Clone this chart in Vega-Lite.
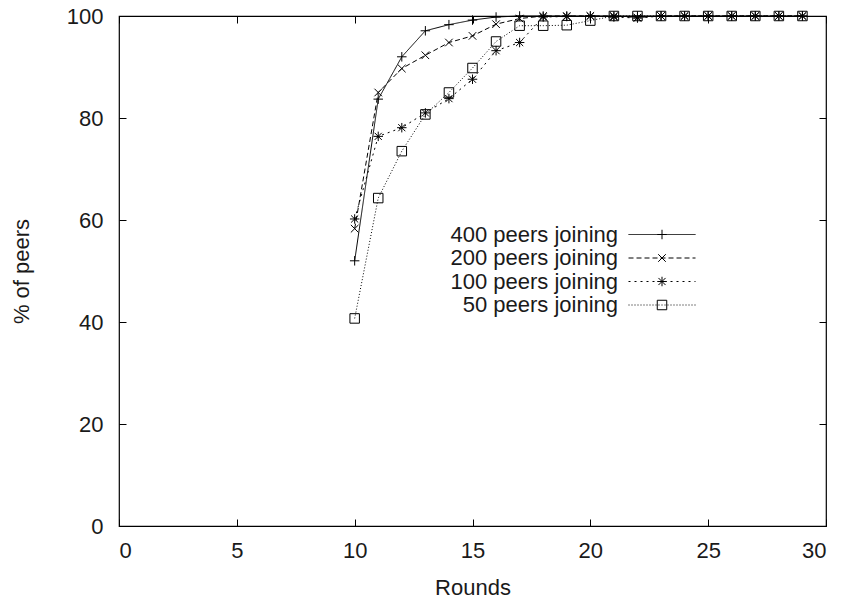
{
  "$schema": "https://vega.github.io/schema/vega-lite/v6.json",
  "width": 707,
  "height": 510,
  "autosize": "none",
  "padding": {"left": 119, "top": 16, "right": 18, "bottom": 74},
  "background": "white",
  "config": {
    "font": "Liberation Sans",
    "view": {"stroke": "black", "strokeWidth": 1.2},
    "axis": {
      "grid": false,
      "domain": false,
      "ticks": true,
      "tickColor": "black",
      "tickWidth": 1,
      "tickSize": -7,
      "labelFontSize": 22,
      "labelColor": "#1a1a1a",
      "titleFontSize": 22,
      "titleFontWeight": "normal",
      "titleColor": "#1a1a1a"
    },
    "legend": {
      "labelFontSize": 22,
      "labelColor": "#1a1a1a",
      "labelLimit": 0,
      "padding": 0,
      "rowPadding": 1.5
    }
  },
  "data": {
    "values": [
      {"series": "400 peers joining", "peers": 400, "round": 10, "pct": 52.0},
      {"series": "400 peers joining", "peers": 400, "round": 11, "pct": 83.7},
      {"series": "400 peers joining", "peers": 400, "round": 12, "pct": 92.0},
      {"series": "400 peers joining", "peers": 400, "round": 13, "pct": 97.1},
      {"series": "400 peers joining", "peers": 400, "round": 14, "pct": 98.3},
      {"series": "400 peers joining", "peers": 400, "round": 15, "pct": 99.2},
      {"series": "400 peers joining", "peers": 400, "round": 16, "pct": 99.8},
      {"series": "400 peers joining", "peers": 400, "round": 17, "pct": 100},
      {"series": "400 peers joining", "peers": 400, "round": 18, "pct": 100},
      {"series": "400 peers joining", "peers": 400, "round": 19, "pct": 100},
      {"series": "400 peers joining", "peers": 400, "round": 20, "pct": 100},
      {"series": "400 peers joining", "peers": 400, "round": 21, "pct": 100},
      {"series": "400 peers joining", "peers": 400, "round": 22, "pct": 100},
      {"series": "400 peers joining", "peers": 400, "round": 23, "pct": 100},
      {"series": "400 peers joining", "peers": 400, "round": 24, "pct": 100},
      {"series": "400 peers joining", "peers": 400, "round": 25, "pct": 100},
      {"series": "400 peers joining", "peers": 400, "round": 26, "pct": 100},
      {"series": "400 peers joining", "peers": 400, "round": 27, "pct": 100},
      {"series": "400 peers joining", "peers": 400, "round": 28, "pct": 100},
      {"series": "400 peers joining", "peers": 400, "round": 29, "pct": 100},
      {"series": "200 peers joining", "peers": 200, "round": 10, "pct": 58.3},
      {"series": "200 peers joining", "peers": 200, "round": 11, "pct": 85.0},
      {"series": "200 peers joining", "peers": 200, "round": 12, "pct": 89.7},
      {"series": "200 peers joining", "peers": 200, "round": 13, "pct": 92.3},
      {"series": "200 peers joining", "peers": 200, "round": 14, "pct": 94.8},
      {"series": "200 peers joining", "peers": 200, "round": 15, "pct": 96.1},
      {"series": "200 peers joining", "peers": 200, "round": 16, "pct": 98.4},
      {"series": "200 peers joining", "peers": 200, "round": 17, "pct": 99.5},
      {"series": "200 peers joining", "peers": 200, "round": 18, "pct": 100},
      {"series": "200 peers joining", "peers": 200, "round": 19, "pct": 100},
      {"series": "200 peers joining", "peers": 200, "round": 20, "pct": 100},
      {"series": "200 peers joining", "peers": 200, "round": 21, "pct": 100},
      {"series": "200 peers joining", "peers": 200, "round": 22, "pct": 99.7},
      {"series": "200 peers joining", "peers": 200, "round": 23, "pct": 100},
      {"series": "200 peers joining", "peers": 200, "round": 24, "pct": 100},
      {"series": "200 peers joining", "peers": 200, "round": 25, "pct": 100},
      {"series": "200 peers joining", "peers": 200, "round": 26, "pct": 100},
      {"series": "200 peers joining", "peers": 200, "round": 27, "pct": 100},
      {"series": "200 peers joining", "peers": 200, "round": 28, "pct": 100},
      {"series": "200 peers joining", "peers": 200, "round": 29, "pct": 100},
      {"series": "100 peers joining", "peers": 100, "round": 10, "pct": 60.2},
      {"series": "100 peers joining", "peers": 100, "round": 11, "pct": 76.4},
      {"series": "100 peers joining", "peers": 100, "round": 12, "pct": 78.1},
      {"series": "100 peers joining", "peers": 100, "round": 13, "pct": 81.0},
      {"series": "100 peers joining", "peers": 100, "round": 14, "pct": 83.8},
      {"series": "100 peers joining", "peers": 100, "round": 15, "pct": 87.6},
      {"series": "100 peers joining", "peers": 100, "round": 16, "pct": 93.2},
      {"series": "100 peers joining", "peers": 100, "round": 17, "pct": 94.8},
      {"series": "100 peers joining", "peers": 100, "round": 18, "pct": 99.8},
      {"series": "100 peers joining", "peers": 100, "round": 19, "pct": 99.9},
      {"series": "100 peers joining", "peers": 100, "round": 20, "pct": 100},
      {"series": "100 peers joining", "peers": 100, "round": 21, "pct": 99.8},
      {"series": "100 peers joining", "peers": 100, "round": 22, "pct": 99.6},
      {"series": "100 peers joining", "peers": 100, "round": 23, "pct": 100},
      {"series": "100 peers joining", "peers": 100, "round": 24, "pct": 100},
      {"series": "100 peers joining", "peers": 100, "round": 25, "pct": 100},
      {"series": "100 peers joining", "peers": 100, "round": 26, "pct": 100},
      {"series": "100 peers joining", "peers": 100, "round": 27, "pct": 100},
      {"series": "100 peers joining", "peers": 100, "round": 28, "pct": 100},
      {"series": "100 peers joining", "peers": 100, "round": 29, "pct": 100},
      {"series": "50 peers joining", "peers": 50, "round": 10, "pct": 40.7},
      {"series": "50 peers joining", "peers": 50, "round": 11, "pct": 64.3},
      {"series": "50 peers joining", "peers": 50, "round": 12, "pct": 73.5},
      {"series": "50 peers joining", "peers": 50, "round": 13, "pct": 80.7},
      {"series": "50 peers joining", "peers": 50, "round": 14, "pct": 85.0},
      {"series": "50 peers joining", "peers": 50, "round": 15, "pct": 89.8},
      {"series": "50 peers joining", "peers": 50, "round": 16, "pct": 95.0},
      {"series": "50 peers joining", "peers": 50, "round": 17, "pct": 98.1},
      {"series": "50 peers joining", "peers": 50, "round": 18, "pct": 98.1},
      {"series": "50 peers joining", "peers": 50, "round": 19, "pct": 98.2},
      {"series": "50 peers joining", "peers": 50, "round": 20, "pct": 99.1},
      {"series": "50 peers joining", "peers": 50, "round": 21, "pct": 100},
      {"series": "50 peers joining", "peers": 50, "round": 22, "pct": 100},
      {"series": "50 peers joining", "peers": 50, "round": 23, "pct": 100},
      {"series": "50 peers joining", "peers": 50, "round": 24, "pct": 100},
      {"series": "50 peers joining", "peers": 50, "round": 25, "pct": 100},
      {"series": "50 peers joining", "peers": 50, "round": 26, "pct": 100},
      {"series": "50 peers joining", "peers": 50, "round": 27, "pct": 100},
      {"series": "50 peers joining", "peers": 50, "round": 28, "pct": 100},
      {"series": "50 peers joining", "peers": 50, "round": 29, "pct": 100}
    ]
  },
  "layer": [
    {
      "mark": {"type": "line", "color": "black", "strokeWidth": 1},
      "encoding": {
        "x": {
          "field": "round", "type": "quantitative",
          "scale": {"domain": [0, 30], "nice": false, "zero": false},
          "axis": {"orient": "bottom", "values": [0, 5, 10, 15, 20, 25, 30], "title": "Rounds", "labelPadding": 21, "titlePadding": 16}
        },
        "y": {
          "field": "pct", "type": "quantitative",
          "scale": {"domain": [0, 100], "nice": false},
          "axis": {"orient": "left", "values": [0, 20, 40, 60, 80, 100], "title": "% of peers", "labelPadding": 23, "titlePadding": 33}
        },
        "strokeDash": {
          "field": "series", "type": "nominal",
          "scale": {
            "domain": ["400 peers joining", "200 peers joining", "100 peers joining", "50 peers joining"],
            "range": [[1, 0], [5, 3], [2, 4], [1, 2]]
          },
          "legend": {
            "orient": "none", "legendX": 532, "legendY": 207.5, "title": null,
            "symbolType": "M-6.7,0H6.7", "symbolSize": 100,
            "symbolStrokeColor": "black", "symbolStrokeWidth": 1,
            "labelAlign": "right", "labelOffset": -55
          }
        }
      }
    },
    {
      "mark": {"type": "point", "filled": false, "color": "black", "strokeWidth": 1, "size": 90, "opacity": 1},
      "encoding": {
        "x": {
          "field": "round", "type": "quantitative",
          "scale": {"domain": [0, 30], "nice": false, "zero": false},
          "axis": {"orient": "top", "values": [0, 5, 10, 15, 20, 25, 30], "labels": false, "title": null}
        },
        "y": {
          "field": "pct", "type": "quantitative",
          "scale": {"domain": [0, 100], "nice": false},
          "axis": {"orient": "right", "values": [0, 20, 40, 60, 80, 100], "labels": false, "title": null}
        },
        "shape": {
          "field": "peers", "type": "nominal",
          "scale": {
            "domain": [400, 200, 100, 50],
            "range": ["M-1,0H1M0,-1V1", "M-0.8,-0.8L0.8,0.8M-0.8,0.8L0.8,-0.8", "M-1,0H1M0,-1V1M-0.75,-0.75L0.75,0.75M-0.75,0.75L0.75,-0.75", "square"]
          },
          "legend": {
            "orient": "none", "legendX": 532, "legendY": 207.5, "title": null,
            "symbolSize": 90, "symbolStrokeColor": "black", "symbolStrokeWidth": 1,
            "symbolFillColor": "white",
            "labelExpr": "''"
          }
        }
      }
    }
  ],
  "resolve": {"axis": {"x": "independent", "y": "independent"}}
}
